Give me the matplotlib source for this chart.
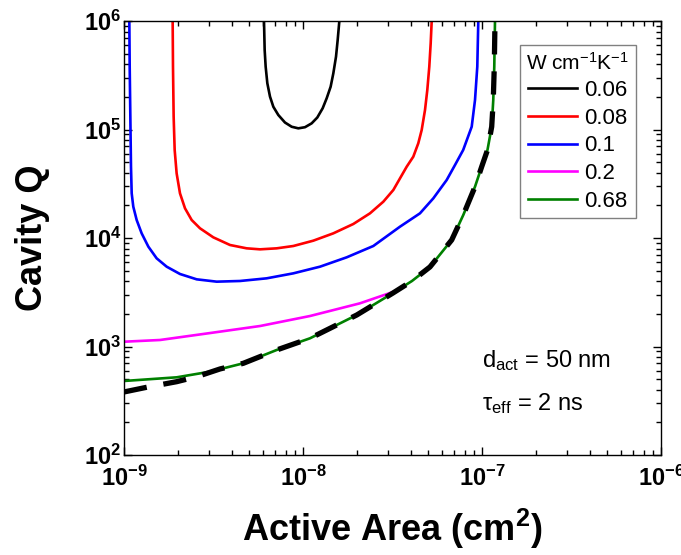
import numpy as np
import matplotlib
matplotlib.use("Agg")
import matplotlib.pyplot as plt
from matplotlib.ticker import LogLocator, NullFormatter

plt.rcParams['font.family'] = ['Liberation Sans', 'DejaVu Sans']
plt.rcParams['mathtext.fontset'] = 'custom'
plt.rcParams['mathtext.rm'] = 'Liberation Sans'
plt.rcParams['mathtext.it'] = 'Liberation Sans:italic'
plt.rcParams['mathtext.bf'] = 'Liberation Sans:bold'
plt.rcParams['mathtext.default'] = 'regular'

# ---- data (active area in cm^2, cavity Q) ----
area_006 = [6.055e-9, 6.107e-9, 6.186e-9, 6.320e-9, 6.541e-9, 6.828e-9, 7.280e-9, 7.930e-9, 8.644e-9, 9.417e-9,
            1.026e-8, 1.118e-8, 1.202e-8, 1.288e-8, 1.356e-8, 1.427e-8, 1.477e-8, 1.529e-8, 1.562e-8, 1.596e-8]
q_006    = [1.0e6, 5.40e5, 3.79e5, 2.67e5, 2.01e5, 1.62e5, 1.36e5, 1.16e5, 1.06e5, 1.025e5,
            1.05e5, 1.14e5, 1.29e5, 1.57e5, 1.94e5, 2.48e5, 3.29e5, 4.69e5, 6.68e5, 1.0e6]

area_008 = [1.870e-9, 1.878e-9, 1.894e-9, 1.919e-9, 1.968e-9, 2.055e-9, 2.192e-9, 2.388e-9, 2.659e-9, 3.155e-9,
            3.910e-9, 4.843e-9, 5.751e-9, 7.126e-9, 8.831e-9, 1.142e-8, 1.477e-8, 1.910e-8, 2.367e-8, 2.811e-8,
            3.196e-8, 3.483e-8, 3.796e-8, 4.132e-8, 4.406e-8, 4.603e-8, 4.804e-8, 4.948e-8, 5.076e-8, 5.168e-8, 5.236e-8]
q_008    = [1.0e6, 3.79e5, 1.313e5, 6.475e4, 3.945e4, 2.580e4, 1.877e4, 1.465e4, 1.228e4, 1.014e4,
            8.620e3, 8.032e3, 7.862e3, 8.03e3, 8.439e3, 9.450e3, 1.104e4, 1.346e4, 1.688e4, 2.162e4,
            2.770e4, 3.548e4, 4.542e4, 5.615e4, 7.462e4, 9.894e4, 1.512e5, 2.312e5, 3.79e5, 6.230e5, 1.0e6]

area_01 = [1.071e-9, 1.076e-9, 1.085e-9, 1.094e-9, 1.104e-9, 1.127e-9, 1.177e-9, 1.255e-9, 1.368e-9, 1.522e-9,
           1.731e-9, 2.055e-9, 2.547e-9, 3.294e-9, 4.446e-9, 6.266e-9, 8.831e-9, 1.245e-8, 1.754e-8, 2.471e-8,
           3.483e-8, 4.503e-8, 5.346e-8, 6.349e-8, 7.066e-8, 7.850e-8, 8.760e-8, 9.140e-8, 9.412e-8, 9.535e-8]
q_01    = [1.0e6, 3.79e5, 1.313e5, 4.545e4, 2.580e4, 1.944e4, 1.465e4, 1.104e4, 8.32e3, 6.496e3,
           5.442e3, 4.658e3, 4.160e3, 3.959e3, 4.016e3, 4.249e3, 4.724e3, 5.442e3, 6.635e3, 8.439e3,
           1.272e4, 1.688e4, 2.320e4, 3.424e4, 4.708e4, 6.475e4, 1.061e5, 1.870e5, 3.79e5, 1.0e6]

area_02 = [1.0e-9, 1.589e-9, 3.02e-9, 5.76e-9, 1.094e-8, 2.08e-8, 3.18e-8]
q_02    = [1.107e3, 1.148e3, 1.33e3, 1.545e3, 1.91e3, 2.5e3, 3.18e3]

area_068 = [1.0e-9, 1.97e-9, 3.02e-9, 4.64e-9, 7.13e-9, 1.094e-8, 1.995e-8, 3.18e-8, 4.063e-8, 5.12e-8,
            6.771e-8, 7.860e-8, 9.140e-8, 9.961e-8, 1.073e-7, 1.133e-7, 1.156e-7, 1.171e-7, 1.182e-7]
q_068    = [481, 520, 586, 700, 929, 1190, 1950, 3110, 4016, 5410,
            9585, 1.629e4, 2.971e4, 4.542e4, 6.475e4, 1.061e5, 1.870e5, 3.79e5, 1.0e6]

area_ideal = [1.0e-9, 1.34e-9, 1.97e-9, 2.55e-9, 3.44e-9, 4.64e-9, 7.13e-9, 1.094e-8, 1.995e-8, 3.18e-8, 4.063e-8,
              5.12e-8, 6.771e-8, 7.860e-8, 9.140e-8, 9.961e-8, 1.073e-7, 1.133e-7, 1.156e-7, 1.171e-7, 1.182e-7]
q_ideal    = [381, 421, 474, 527, 621, 700, 929, 1190, 1950, 3110, 4016,
              5410, 9585, 1.629e4, 2.971e4, 4.542e4, 6.475e4, 1.061e5, 1.870e5, 3.79e5, 1.0e6]

series = [
    ("0.06", area_006, q_006, "black"),
    ("0.08", area_008, q_008, "#ff0000"),
    ("0.1", area_01, q_01, "#0000ff"),
    ("0.2", area_02, q_02, "#ff00ff"),
    ("0.68", area_068, q_068, "#008000"),
]

x_ticks = [1e-9, 1e-8, 1e-7, 1e-6]
x_ticklabels = [r"$10^{-9}$", r"$10^{-8}$", r"$10^{-7}$", r"$10^{-6}$"]
y_ticks = [1e2, 1e3, 1e4, 1e5, 1e6]
y_ticklabels = [r"$10^{2}$", r"$10^{3}$", r"$10^{4}$", r"$10^{5}$", r"$10^{6}$"]

fig = plt.figure(figsize=(6.81, 5.55), dpi=100)
ax = fig.add_axes([124/681, 100/555, 537/681, 434/555])

for label, a, q, c in series:
    ax.plot(a, q, color=c, lw=1.9, label=label, solid_joinstyle='round')
ax.plot(area_ideal, q_ideal, color='black', lw=3.8, ls=(0, (4.4, 3.2)), zorder=5)

ax.set_xscale('log')
ax.set_yscale('log')
ax.set_xlim(1e-9, 1e-6)
ax.set_ylim(1e2, 1e6)

ax.set_xticks(x_ticks)
ax.set_xticklabels(x_ticklabels, fontsize=17, fontweight='bold')
ax.set_yticks(y_ticks)
ax.set_yticklabels(y_ticklabels, fontsize=17, fontweight='bold')
ax.xaxis.set_minor_locator(LogLocator(base=10, subs=np.arange(2, 10), numticks=20))
ax.yaxis.set_minor_locator(LogLocator(base=10, subs=np.arange(2, 10), numticks=20))
ax.xaxis.set_minor_formatter(NullFormatter())
ax.yaxis.set_minor_formatter(NullFormatter())

ax.tick_params(which='both', direction='in', top=True, right=True, width=1.0)
ax.tick_params(which='major', length=6)
ax.tick_params(which='minor', length=3.5)
ax.tick_params(axis='x', which='major', pad=8)
ax.tick_params(axis='y', which='major', pad=2)
for s in ax.spines.values():
    s.set_linewidth(1.0)

ax.set_xlabel(r"Active Area (cm$^{2}$)", fontsize=26, fontweight='bold', labelpad=11)
ax.set_ylabel("Cavity Q", fontsize=26, fontweight='bold', labelpad=24)

leg = ax.legend(title=r"W cm$^{-1}$K$^{-1}$", fontsize=16, title_fontsize=15,
                loc='upper right', bbox_to_anchor=(0.953, 0.945), borderaxespad=0,
                fancybox=False, framealpha=1, edgecolor='#808080',
                handlelength=2.2, handletextpad=0.3, labelspacing=0.3,
                borderpad=0.3)
leg.get_frame().set_linewidth(1.0)

ax.text(0.667, 0.203, r"d$_{\rm act}$ = 50 nm", transform=ax.transAxes, fontsize=17, va='baseline')
ax.text(0.667, 0.104, r"$\tau_{\rm eff}$ = 2 ns", transform=ax.transAxes, fontsize=17, va='baseline')

fig.savefig("out.png", dpi=100)
